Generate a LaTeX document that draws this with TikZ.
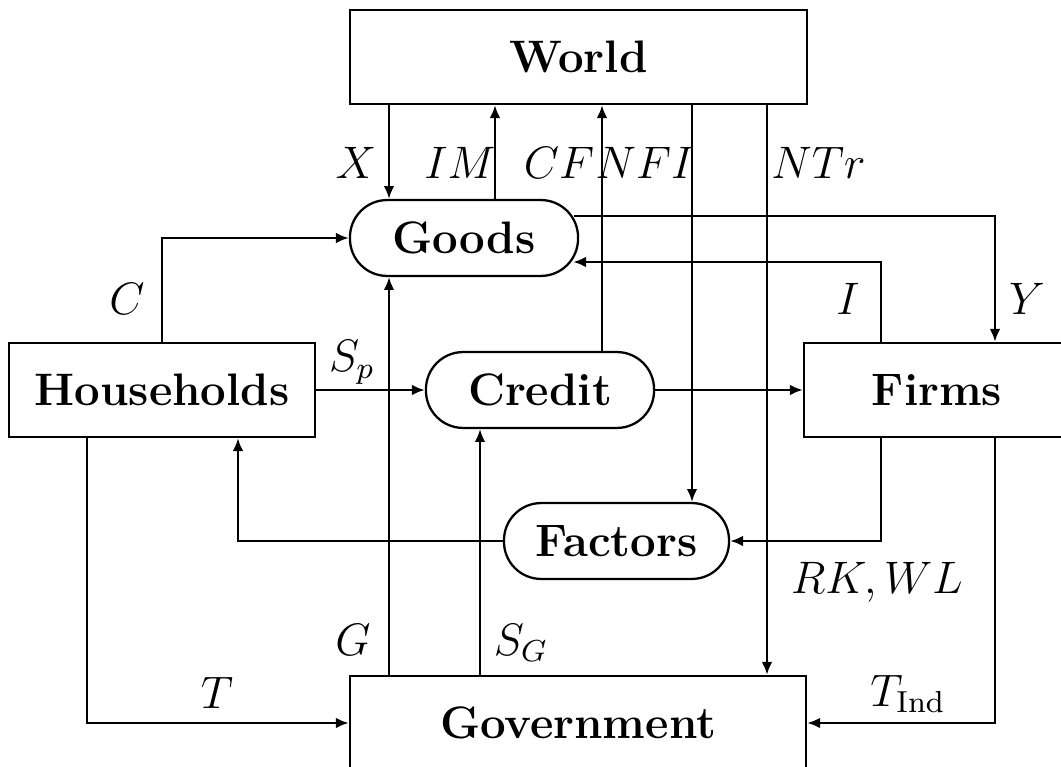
\documentclass[tikz,border=0pt]{standalone}
\usetikzlibrary{arrows.meta,calc}
\begin{document}
\begin{tikzpicture}[x=0.2635pt,y=-0.2635pt,line width=0.6pt,
  box/.style={draw,rectangle,inner sep=0pt,minimum height=24.8pt,font=\large\bfseries},
  pill/.style={draw,rectangle,rounded corners=9.8pt,inner sep=0pt,minimum height=20pt,font=\large\bfseries},
  flow/.style={-{Latex[length=3.4pt,width=2.8pt]}},
  lbl/.style={anchor=base,inner sep=0pt,font=\large}]
\useasboundingbox (0,0) rectangle (1061,767);

% sectors
\node[box,minimum width=120.4pt] (world) at (578.5,57) {World};
\node[pill,minimum width=60.1pt] (goods) at (464,238) {Goods};
\node[box,minimum width=80.6pt] (hh) at (162,390) {Households};
\node[pill,minimum width=60.1pt] (credit) at (540,390) {Credit};
\node[box,minimum width=70.1pt] (firms) at (937,390) {Firms};
\node[pill,minimum width=59.3pt] (factors) at (616.5,541) {Factors};
\node[box,minimum width=120.2pt] (gov) at (578,723) {Government};

% columns of the vertical flows
\coordinate (cT) at (87,0);
\coordinate (cC) at (162,0);
\coordinate (cHin) at (238,0);
\coordinate (cX) at (389,0);
\coordinate (cSG) at (480,0);
\coordinate (cIM) at (495,0);
\coordinate (cCF) at (602,0);
\coordinate (cNFI) at (692,0);
\coordinate (cNTr) at (767,0);
\coordinate (cI) at (881,0);
\coordinate (cY) at (995,0);

% flows
\draw[flow] (world.south -| cX) -- (goods.north -| cX);
\draw[flow] (goods.north -| cIM) -- (world.south -| cIM);
\draw[flow] (credit.north -| cCF) -- (world.south -| cCF);
\draw[flow] (world.south -| cNFI) -- (factors.north -| cNFI);
\draw[flow] (world.south -| cNTr) -- (gov.north -| cNTr);
\draw[flow] ($(goods.east)+(-5,-22)$) -| (firms.north -| cY);
\draw[flow] (firms.north -| cI) |- ($(goods.east)+(-6,24)$);
\draw[flow] (hh.north -| cC) |- (goods.west);
\draw[flow] (hh.east) -- (credit.west);
\draw[flow] (credit.east) -- (firms.west);
\draw[flow] (factors.west) -| (hh.south -| cHin);
\draw[flow] (firms.south -| cI) |- (factors.east);
\draw[flow] (hh.south -| cT) |- (gov.west);
\draw[flow] (firms.south -| cY) |- (gov.east);
\draw[flow] (gov.north -| cX) -- (goods.south -| cX);
\draw[flow] (gov.north -| cSG) -- (credit.south -| cSG);

% flow labels
\node[lbl] (lX) at (356,179) {$X$};
\node[lbl] (lIM) at (460,179) {$IM$};
\node[lbl] (lCF) at (559,179) {$CF$};
\node[lbl] (lNFI) at (645,179) {$NFI$};
\node[lbl] (lNTr) at (818.5,179) {$NTr$};
\node[lbl] (lC) at (127,315) {$C$};
\node[lbl] (lI) at (848,315) {$I$};
\node[lbl] (lY) at (1027,315) {$Y$};
\node[lbl] (lSp) at (352,372) {$S_p$};
\node[lbl] (lRKWL) at (877,593) {$RK,WL$};
\node[lbl] (lG) at (353,655) {$G$};
\node[lbl] (lSG) at (521,655) {$S_G$};
\node[lbl] (lT) at (217,708) {$T$};
\node[lbl] (lTInd) at (908,706) {$T_{\mathrm{Ind}}$};
\end{tikzpicture}
\end{document}
